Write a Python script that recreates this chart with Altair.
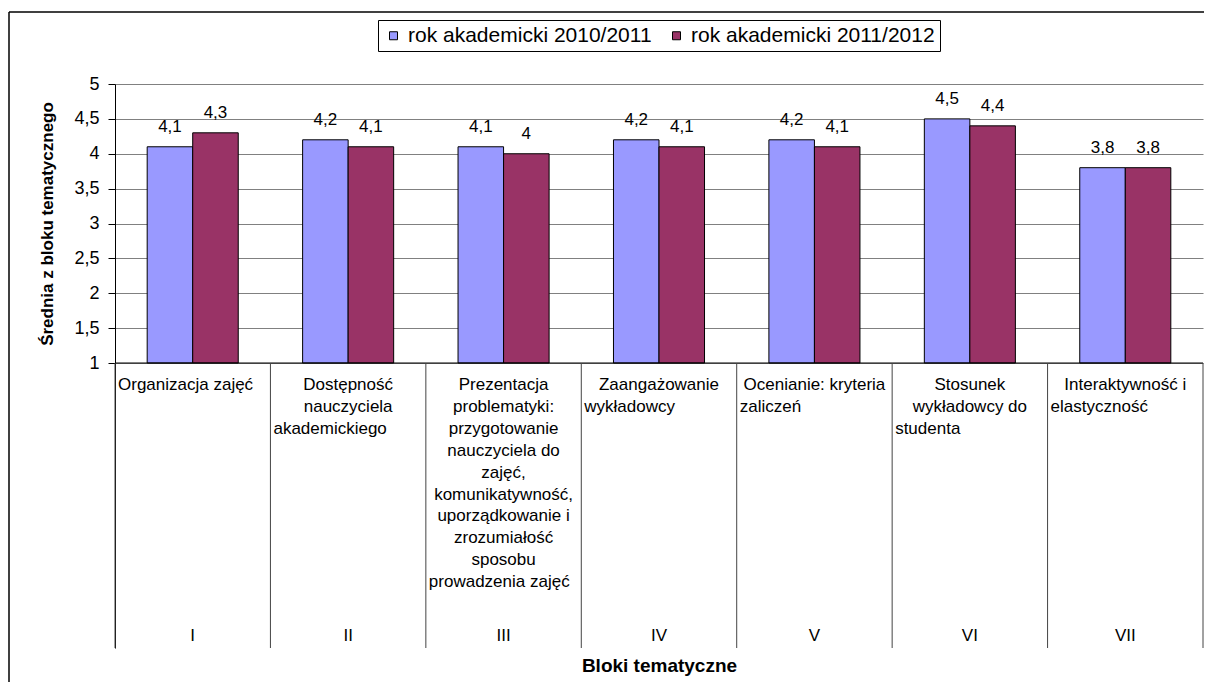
import altair as alt
import pandas as pd

FONT = "Liberation Sans"

CATS = ["I", "II", "III", "IV", "V", "VI", "VII"]
SERIES = ["rok akademicki 2010/2011", "rok akademicki 2011/2012"]
VAL_2010 = [4.1, 4.2, 4.1, 4.2, 4.2, 4.5, 3.8]
VAL_2011 = [4.3, 4.1, 4.0, 4.1, 4.1, 4.4, 3.8]
COLORS = ["#9999FF", "#993366"]
Y_TICKS = [1, 1.5, 2, 2.5, 3, 3.5, 4, 4.5, 5]
LABEL_LINES = [
    ["Organizacja zajęć"],
    ["Dostępność", "nauczyciela", "akademickiego"],
    ["Prezentacja", "problematyki:", "przygotowanie", "nauczyciela do", "zajęć,",
     "komunikatywność,", "uporządkowanie i", "zrozumiałość", "sposobu",
     "prowadzenia zajęć"],
    ["Zaangażowanie", "wykładowcy"],
    ["Ocenianie: kryteria", "zaliczeń"],
    ["Stosunek", "wykładowcy do", "studenta"],
    ["Interaktywność i", "elastyczność"],
]

W = 1088
PLOT_H = 279            # pixel height of the value range 1..5
H = 564                 # plot + category label area
Y_MIN, Y_MAX = 1, 5
PX_PER_UNIT = PLOT_H / (Y_MAX - Y_MIN)
Y_BOTTOM = Y_MIN - (H - PLOT_H) / PX_PER_UNIT      # bottom of the label area
ROW_H = 21.92 / PX_PER_UNIT                         # one text row in value units
ROMAN_ROW = 12.45

bars_df = pd.DataFrame(
    [{"cat": c, "series": SERIES[0], "value": v} for c, v in zip(CATS, VAL_2010)]
    + [{"cat": c, "series": SERIES[1], "value": v} for c, v in zip(CATS, VAL_2011)]
)
lines_rows = []
for c, lines in zip(CATS, LABEL_LINES):
    for i, t in enumerate(lines):
        lines_rows.append({"cat": c, "row": 1 + i, "text": t,
                           "align": "left" if i == len(lines) - 1 else "center"})
lines_df = pd.DataFrame(lines_rows)
cats_df = pd.DataFrame({"cat": CATS, "row": [ROMAN_ROW] * len(CATS)})
one_df = pd.DataFrame({"a": [0]})

XSCALE = alt.Scale(type="band", paddingInner=0, paddingOuter=0)
XAXIS = alt.Axis(orient="bottom", title="Bloki tematyczne", labels=False,
                 ticks=False, domain=False, titleFontSize=19,
                 titleFontWeight="bold", titleFont=FONT,
                 titleColor="black", titlePadding=8)


def xs(band_pos=None):
    if band_pos is None:
        return alt.X("cat:N", sort=CATS, scale=XSCALE, axis=XAXIS)
    return alt.X("cat:N", sort=CATS, bandPosition=band_pos, scale=XSCALE, axis=XAXIS)


YSCALE = alt.Scale(domain=[Y_BOTTOM, Y_MAX], nice=False, zero=False)
YAXIS = alt.Axis(values=Y_TICKS,
                 labelExpr="replace(toString(datum.value), '.', ',')",
                 title="Średnia z bloku tematycznego",
                 grid=True, gridColor="#808080", gridWidth=1,
                 domainColor="black", tickColor="black", tickSize=7,
                 labelPadding=9, labelFontSize=18, labelFont=FONT,
                 labelColor="black",
                 titleFontSize=17, titleFont=FONT, titleFontWeight="bold",
                 titleColor="black", titleX=-68, titleY=PLOT_H / 2,
                 titleBaseline="middle")

xo = alt.XOffset("series:N", sort=SERIES,
                 scale=alt.Scale(paddingInner=0, paddingOuter=0.707))

bars = alt.Chart(bars_df).mark_bar(stroke="black", strokeWidth=1).encode(
    x=xs(), xOffset=xo,
    y=alt.Y("value:Q", scale=YSCALE, axis=YAXIS), y2=alt.datum(Y_MIN),
    color=alt.Color("series:N", sort=SERIES,
                    scale=alt.Scale(domain=SERIES, range=COLORS),
                    legend=alt.Legend(orient="none", legendX=263, legendY=-64,
                                      direction="horizontal", title=None,
                                      strokeColor="black", fillColor="white",
                                      padding=5, symbolType="square", symbolSize=64,
                                      symbolStrokeColor="black", symbolStrokeWidth=1,
                                      labelFontSize=21, labelFont=FONT,
                                      labelColor="black", labelLimit=0,
                                      columnPadding=14, labelOffset=4)),
)
values = alt.Chart(bars_df).transform_calculate(
    lbl="replace(toString(datum.value), '.', ',')"
).mark_text(baseline="alphabetic", dy=-15, fontSize=17, font=FONT, color="black").encode(
    x=xs(), xOffset=xo, y=alt.Y("value:Q"), text="lbl:N")

base_rule = alt.Chart(one_df).mark_rule(color="black", strokeWidth=1).encode(
    y=alt.datum(Y_MIN))

cell_rules = alt.Chart(cats_df).mark_rule(color="#444444", strokeWidth=1).encode(
    x=xs(0), y=alt.datum(Y_MIN), y2=alt.datum(Y_BOTTOM))
right_rule = alt.Chart(cats_df).transform_filter(
    alt.datum.cat == CATS[-1]
).mark_rule(color="#444444", strokeWidth=1).encode(
    x=xs(1), y=alt.datum(Y_MIN), y2=alt.datum(Y_BOTTOM))

row_calc = f"{Y_MIN} - datum.row * {ROW_H}"
text_center = alt.Chart(lines_df).transform_filter(
    alt.datum.align == "center"
).transform_calculate(yv=row_calc).mark_text(
    align="center", baseline="middle", fontSize=17, font=FONT, color="black").encode(
    x=xs(), y=alt.Y("yv:Q"), text="text:N")
text_left = alt.Chart(lines_df).transform_filter(
    alt.datum.align == "left"
).transform_calculate(yv=row_calc).mark_text(
    align="left", baseline="middle", dx=3, fontSize=17, font=FONT, color="black").encode(
    x=xs(0), y=alt.Y("yv:Q"), text="text:N")
roman = alt.Chart(cats_df).transform_calculate(yv=row_calc).mark_text(
    align="center", baseline="middle", fontSize=17, font=FONT, color="black").encode(
    x=xs(), y=alt.Y("yv:Q"), text="cat:N")

# outer chart frame (left and top edges, the rest lies outside the picture)
border_left = alt.Chart(one_df).mark_rule(color="black", strokeWidth=1.5).encode(
    x=alt.value(-106), y=alt.value(-72), y2=alt.value(H + 40))
border_top = alt.Chart(one_df).mark_rule(color="black", strokeWidth=1.5).encode(
    x=alt.value(-106), x2=alt.value(W + 20), y=alt.value(-72))

chart = alt.layer(
    bars, values, base_rule, cell_rules, right_rule, text_center, text_left, roman,
    border_left, border_top
).properties(
    width=W, height=H,
    autosize=alt.AutoSizeParams(type="none"),
    padding={"left": 107, "top": 76, "right": 1, "bottom": 34},
).configure_view(stroke=None)

chart.save("out.html", embed_options={"renderer": "svg", "actions": False})
